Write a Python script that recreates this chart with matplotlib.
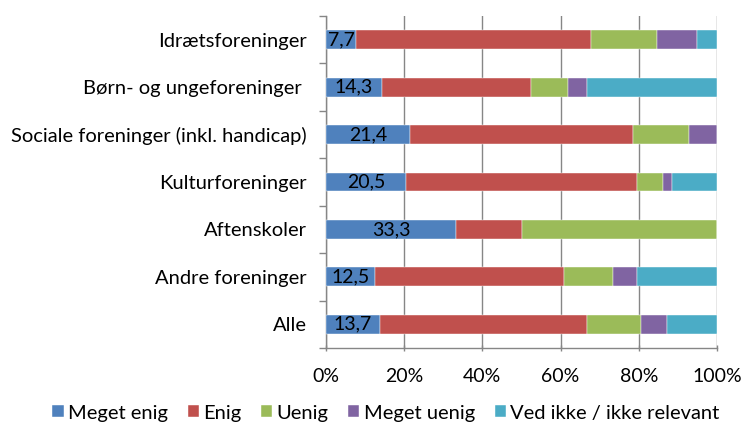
import matplotlib
matplotlib.use("Agg")
import matplotlib.pyplot as plt
from matplotlib.ticker import MultipleLocator, FixedLocator, PercentFormatter
import numpy as np

categories = ["Idrætsforeninger", "Børn- og ungeforeninger ", "Sociale foreninger (inkl. handicap)",
              "Kulturforeninger", "Aftenskoler", "Andre foreninger", "Alle"]
series_names = ["Meget enig", "Enig", "Uenig", "Meget uenig", "Ved ikke / ikke relevant"]
meget_enig = [7.7, 14.3, 21.4, 20.5, 33.3, 12.5, 13.7]
enig = [60.1, 38.1, 57.1, 59.0, 16.7, 48.3, 53.1]
uenig = [16.8, 9.5, 14.3, 6.8, 50.0, 12.6, 13.8]
meget_uenig = [10.4, 4.8, 7.2, 2.3, 0.0, 6.2, 6.7]
ved_ikke = [5.0, 33.3, 0.0, 11.4, 0.0, 20.4, 12.7]
colors = ["#4F81BD", "#C0504D", "#9BBB59", "#8064A2", "#4BACC6"]

plt.rcParams['font.family'] = ['Lato', 'DejaVu Sans']

fig = plt.figure(figsize=(7.42, 4.28), dpi=100)
ax = fig.add_axes([326/742, 80/428, 391/742, 332/428])

data = [meget_enig, enig, uenig, meget_uenig, ved_ikke]
y = np.arange(len(categories))[::-1]
left = np.zeros(len(categories))
for name, vals, c in zip(series_names, data, colors):
    vals = np.array(vals)
    ax.barh(y, vals, left=left, height=0.4, color=c, label=name,
            edgecolor="white", linewidth=0.3, zorder=3)
    if name == "Meget enig":
        for yi, l, v in zip(y, left, vals):
            ax.text(l + v / 2, yi, f"{v:.1f}".replace(".", ","), ha="center", va="center",
                    fontsize=14, color="black", zorder=4)
    left += vals

ax.set_xlim(0, 100)
ax.set_ylim(-0.5, len(categories) - 0.5)
ax.xaxis.set_major_locator(MultipleLocator(20))
ax.xaxis.set_major_formatter(PercentFormatter(decimals=0))
ax.set_yticks(y)
ax.set_yticklabels(categories)
ax.yaxis.set_minor_locator(FixedLocator(np.arange(-0.5, len(categories), 1.0)))
ax.tick_params(axis="y", which="major", length=0, pad=14, labelsize=14.5)
ax.tick_params(axis="y", which="minor", length=5, color="#868686", width=1)
ax.tick_params(axis="x", which="major", length=5, direction="inout", color="#868686",
               width=1, pad=12, labelsize=14)
ax.grid(axis="x", color="#868686", linewidth=1, zorder=0)
for s in ["top", "right"]:
    ax.spines[s].set_visible(False)
for s in ["left", "bottom"]:
    ax.spines[s].set_color("#868686")
    ax.spines[s].set_linewidth(1)

handles, labels = ax.get_legend_handles_labels()
fig.legend(handles, labels, loc="center", bbox_to_anchor=(0.52, 15/428),
           ncol=5, frameon=False, fontsize=14.5, handlelength=0.55, handleheight=0.55,
           handletextpad=0.2, columnspacing=1.0)

fig.savefig("out.png", dpi=100)
